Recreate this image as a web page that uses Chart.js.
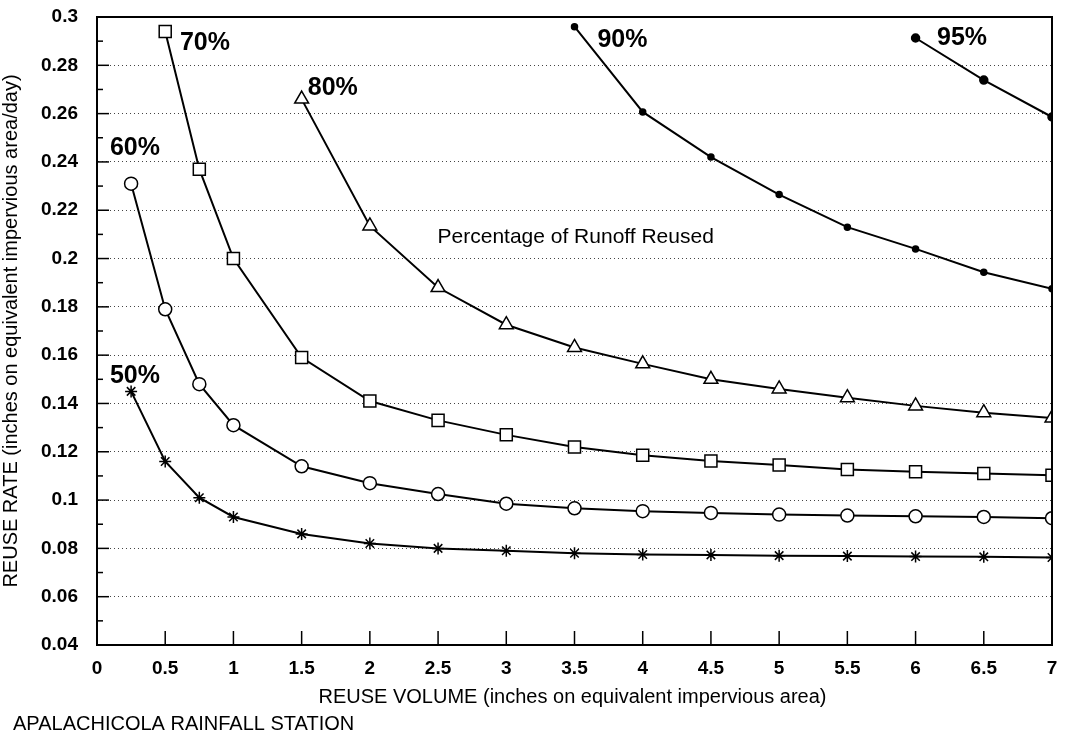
<!DOCTYPE html>
<html><head><meta charset="utf-8">
<script src="https://cdn.jsdelivr.net/npm/chart.js@4.4.1/dist/chart.umd.min.js"></script>
<style>html,body{margin:0;padding:0;background:#fff;}#wrap{width:1065px;height:736px;}</style>
</head><body><div id="wrap"><canvas id="c" width="1065" height="736"></canvas></div>
<script>
// Reuse volume (inches) for each curve
const volumes50 = [0.25,0.5,0.75,1,1.5,2,2.5,3,3.5,4,4.5,5,5.5,6,6.5,7];
const volumes60 = [0.25,0.5,0.75,1,1.5,2,2.5,3,3.5,4,4.5,5,5.5,6,6.5,7];
const volumes70 = [0.5,0.75,1,1.5,2,2.5,3,3.5,4,4.5,5,5.5,6,6.5,7];
const volumes80 = [1.5,2,2.5,3,3.5,4,4.5,5,5.5,6,6.5,7];
const volumes90 = [3.5,4,4.5,5,5.5,6,6.5,7];
const volumes95 = [6,6.5,7];
// Reuse rate (inches/day)
const rate50 = [0.145,0.116,0.101,0.093,0.086,0.082,0.080,0.079,0.078,0.0775,0.0773,0.077,0.0768,0.0766,0.0765,0.0762];
const rate60 = [0.231,0.179,0.148,0.131,0.114,0.107,0.1025,0.0985,0.0966,0.0954,0.0947,0.094,0.0936,0.0933,0.093,0.0925];
const rate70 = [0.294,0.237,0.200,0.159,0.141,0.133,0.127,0.122,0.1186,0.1162,0.1145,0.1127,0.1117,0.111,0.1103];
const rate80 = [0.266,0.2135,0.188,0.1726,0.1632,0.1564,0.150,0.146,0.1424,0.139,0.1362,0.134];
const rate90 = [0.296,0.2607,0.242,0.2265,0.213,0.204,0.1943,0.1875];
const rate95 = [0.2913,0.2739,0.2586];
const seriesLabels = ['50%','60%','70%','80%','90%','95%'];
const xTickValues = [0,0.5,1,1.5,2,2.5,3,3.5,4,4.5,5,5.5,6,6.5,7];
const yTickValues = [0.04,0.06,0.08,0.1,0.12,0.14,0.16,0.18,0.2,0.22,0.24,0.26,0.28,0.3];
const xTitle = 'REUSE VOLUME (inches on equivalent impervious area)';
const yTitle = 'REUSE RATE (inches on equivalent impervious area/day)';
const footer = 'APALACHICOLA RAINFALL STATION';
const centerNote = 'Percentage of Runoff Reused';

const FONT = '"Liberation Sans", Arial, Helvetica, sans-serif';
function pts(xs, ys){ return xs.map((x,i)=>({x:x, y:ys[i]})); }

const ds = (label, xs, ys, style, radius, fill) => ({
  label, data: pts(xs, ys), borderColor:'#000', borderWidth:2,
  pointStyle: style, pointRadius: radius, pointHoverRadius: radius,
  pointBackgroundColor: fill, pointBorderColor:'#000', pointBorderWidth:1.5,
  tension:0, fill:false, clip:0
});

const decor = {
  id:'decor',
  afterDraw(chart, args, o){
    const ctx = chart.ctx, a = chart.chartArea;
    const xs = chart.scales.x, ys = chart.scales.y;
    ctx.save();
    // frame top & right
    ctx.strokeStyle = '#000'; ctx.lineWidth = 2;
    ctx.beginPath(); ctx.moveTo(a.left, a.top); ctx.lineTo(a.right, a.top); ctx.lineTo(a.right, a.bottom); ctx.stroke();
    // inward ticks on y axis
    ctx.lineWidth = 1.5;
    for (let k = 4; k <= 30; k++) {
      const py = ys.getPixelForValue(k/100);
      const len = (k % 2 === 0) ? 12 : 6;
      ctx.beginPath(); ctx.moveTo(a.left, py); ctx.lineTo(a.left + len, py); ctx.stroke();
    }
    // inward ticks on x axis
    xTickValues.forEach(v => {
      const px = xs.getPixelForValue(v);
      ctx.beginPath(); ctx.moveTo(px, a.bottom); ctx.lineTo(px, a.bottom - 14); ctx.stroke();
    });
    // annotations
    ctx.fillStyle = '#000';
    ctx.textBaseline = 'alphabetic'; ctx.textAlign = 'left';
    o.notes.forEach(n => {
      ctx.font = n.font;
      ctx.fillText(n.text, xs.getPixelForValue(n.x), ys.getPixelForValue(n.y));
    });
    // axis titles & footer
    ctx.font = '20px ' + FONT;
    ctx.textAlign = 'center';
    ctx.fillText(xTitle, (a.left + a.right)/2 - 2, 703);
    ctx.textAlign = 'left';
    ctx.fillText(footer, 13, 730);
    ctx.translate(11, (a.top + a.bottom)/2); ctx.rotate(-Math.PI/2);
    ctx.textAlign = 'center'; ctx.textBaseline = 'middle';
    ctx.fillText(yTitle, 0, 0);
    ctx.restore();
  }
};

new Chart(document.getElementById('c'), {
  type:'line',
  data:{ datasets:[
    ds(seriesLabels[0], volumes50, rate50, 'star', 6, '#000'),
    ds(seriesLabels[1], volumes60, rate60, 'circle', 6.5, '#fff'),
    ds(seriesLabels[2], volumes70, rate70, 'rect', 8.5, '#fff'),
    ds(seriesLabels[3], volumes80, rate80, 'triangle', 8, '#fff'),
    ds(seriesLabels[4], volumes90, rate90, 'circle', 3, '#000'),
    ds(seriesLabels[5], volumes95, rate95, 'circle', 4, '#000')
  ]},
  options:{
    responsive:false, animation:false,
    layout:{ padding:{ top:17, right:13, left:0, bottom:0 } },
    plugins:{
      legend:{display:false}, tooltip:{enabled:false},
      decor:{ notes:[
        {text:'70%', x:0.608, y:0.2863, font:'bold 25px '+FONT},
        {text:'60%', x:0.095, y:0.2429, font:'bold 25px '+FONT},
        {text:'80%', x:1.545, y:0.2677, font:'bold 25px '+FONT},
        {text:'50%', x:0.095, y:0.1485, font:'bold 25px '+FONT},
        {text:'90%', x:3.668, y:0.2876, font:'bold 25px '+FONT},
        {text:'95%', x:6.157, y:0.2884, font:'bold 25px '+FONT},
        {text:centerNote, x:2.496, y:0.2064, font:'21px '+FONT}
      ]}
    },
    scales:{
      x:{ type:'linear', min:0, max:7,
        afterFit(s){ s.height = 91; s.paddingLeft = 0; s.paddingRight = 0; },
        afterBuildTicks(s){ s.ticks = xTickValues.map(v=>({value:v})); },
        grid:{ display:false, drawTicks:false },
        border:{ display:true, color:'#000', width:2 },
        ticks:{ padding:12, color:'#000', font:{family:FONT, size:19, weight:'bold'}, maxRotation:0, autoSkip:false,
          callback:(v)=>String(v) }
      },
      y:{ type:'linear', min:0.04, max:0.3,
        afterFit(s){ s.width = 97; s.paddingTop = 0; s.paddingBottom = 0; },
        afterBuildTicks(s){ s.ticks = yTickValues.map(v=>({value:v})); },
        grid:{ display:true, drawTicks:false, color:'#444', lineWidth:1 },
        border:{ display:true, color:'#000', width:2, dash:[1,3] },
        ticks:{ padding:19, color:'#000', font:{family:FONT, size:19, weight:'bold'}, autoSkip:false,
          callback:(v)=>String(Math.round(v*100)/100) }
      }
    }
  },
  plugins:[decor]
});
</script>
</body></html>
